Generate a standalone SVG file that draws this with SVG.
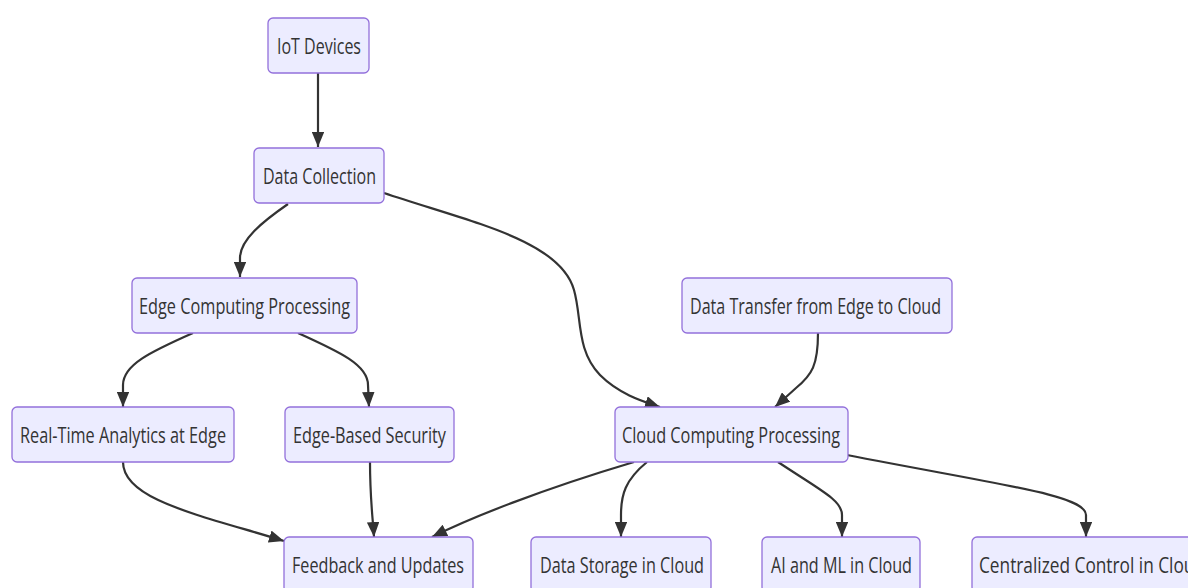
<svg xmlns="http://www.w3.org/2000/svg" width="1188" height="588" viewBox="0 0 1188 588">
  <style>
    .node rect { fill: #ECECFF; stroke: #9370DB; stroke-width: 1.3; }
    .node text { font-family: "Open Sans", "Noto Sans", "Liberation Sans", sans-serif; font-size: 22px; fill: #333333; }
    .edges path { fill: none; stroke: #333333; stroke-width: 2.2; marker-end: url(#arrow); }
  </style>
  <defs>
    <marker id="arrow" viewBox="0 0 12 10" refX="12" refY="5" markerUnits="userSpaceOnUse" markerWidth="15" markerHeight="12.5" orient="auto">
      <path d="M0,0 L12,5 L0,10 z" fill="#333333"/>
    </marker>
  </defs>
  <rect width="1188" height="588" fill="#ffffff"/>

  <g class="edges">
    <path d="M318,73 L318,147"/>
    <path d="M288,204 C262,222 240,240 240,258 L240,277"/>
    <path d="M384,193 C470,222 560,240 574,290 C582,318 576,350 600,375 C620,395 645,402 660,407"/>
    <path d="M818,333 C818,365 812,375 796,388 L775,407"/>
    <path d="M193,333 C150,352 123,365 123,385 L123,407"/>
    <path d="M298,333 C340,352 368,365 368,385 L369,407"/>
    <path d="M123,462 C123,500 200,515 284,541"/>
    <path d="M370,462 C370,500 373,520 374,537"/>
    <path d="M634,462 C540,490 470,518 432,537"/>
    <path d="M647,462 C625,480 621,495 621,515 L621,537"/>
    <path d="M778,462 C820,490 842,500 842,515 L842,537"/>
    <path d="M847,455 C1000,485 1086,495 1086,515 L1086,537"/>
  </g>

  <g id="iot" class="node">
    <rect x="268" y="18" width="101" height="55" rx="5"/>
    <text x="277" y="54" textLength="84" lengthAdjust="spacingAndGlyphs">IoT Devices</text>
  </g>
  <g id="collect" class="node">
    <rect x="254" y="148" width="130" height="55" rx="5"/>
    <text x="263" y="184" textLength="113" lengthAdjust="spacingAndGlyphs">Data Collection</text>
  </g>
  <g id="edgeproc" class="node">
    <rect x="132" y="278" width="225" height="55" rx="5"/>
    <text x="139" y="314" textLength="211" lengthAdjust="spacingAndGlyphs">Edge Computing Processing</text>
  </g>
  <g id="transfer" class="node">
    <rect x="682" y="278" width="270" height="55" rx="5"/>
    <text x="690" y="314" textLength="251" lengthAdjust="spacingAndGlyphs">Data Transfer from Edge to Cloud</text>
  </g>
  <g id="realtime" class="node">
    <rect x="12" y="407" width="222" height="55" rx="5"/>
    <text x="20" y="443" textLength="206" lengthAdjust="spacingAndGlyphs">Real-Time Analytics at Edge</text>
  </g>
  <g id="security" class="node">
    <rect x="285" y="407" width="169" height="55" rx="5"/>
    <text x="293" y="443" textLength="153" lengthAdjust="spacingAndGlyphs">Edge-Based Security</text>
  </g>
  <g id="cloudproc" class="node">
    <rect x="615" y="407" width="233" height="55" rx="5"/>
    <text x="622" y="443" textLength="218" lengthAdjust="spacingAndGlyphs">Cloud Computing Processing</text>
  </g>
  <g id="feedback" class="node">
    <rect x="284" y="537" width="189" height="55" rx="5"/>
    <text x="292" y="573" textLength="172" lengthAdjust="spacingAndGlyphs">Feedback and Updates</text>
  </g>
  <g id="storage" class="node">
    <rect x="531" y="537" width="180" height="55" rx="5"/>
    <text x="540" y="573" textLength="164" lengthAdjust="spacingAndGlyphs">Data Storage in Cloud</text>
  </g>
  <g id="aiml" class="node">
    <rect x="762" y="537" width="158" height="55" rx="5"/>
    <text x="771" y="573" textLength="141" lengthAdjust="spacingAndGlyphs">AI and ML in Cloud</text>
  </g>
  <g id="control" class="node">
    <rect x="972" y="537" width="241" height="55" rx="5"/>
    <text x="979" y="573" textLength="226" lengthAdjust="spacingAndGlyphs">Centralized Control in Cloud</text>
  </g>
</svg>
